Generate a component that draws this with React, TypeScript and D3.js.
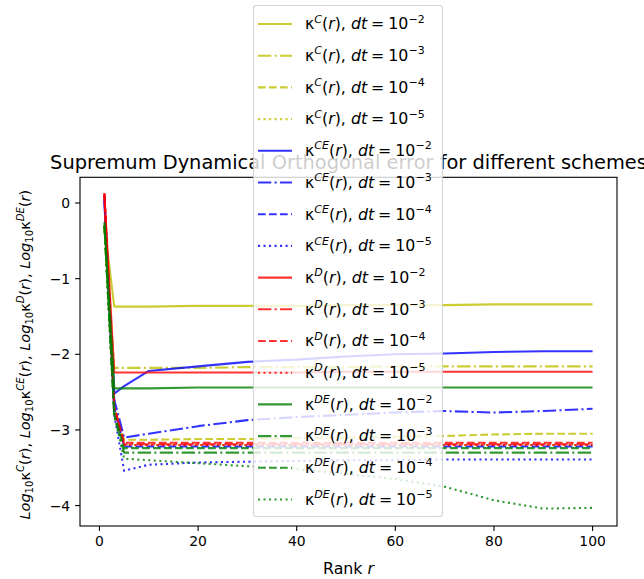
import React from 'react';
import * as d3 from 'd3';

// ---------- data ----------
const ranks = [1, 3, 5, 10, 20, 30, 40, 50, 60, 70, 80, 90, 100];

const kappaC_dt2 = [-0.3, -1.37, -1.37, -1.37, -1.36, -1.36, -1.36, -1.35, -1.35, -1.35, -1.34, -1.34, -1.34];
const kappaC_dt3 = [-0.32, -2.18, -2.18, -2.18, -2.18, -2.17, -2.17, -2.17, -2.16, -2.16, -2.16, -2.16, -2.16];
const kappaC_dt4 = [-0.3, -2.7, -3.13, -3.13, -3.12, -3.12, -3.11, -3.1, -3.09, -3.08, -3.06, -3.05, -3.05];
const kappaC_dt5 = [-0.3, -2.8, -3.2, -3.2, -3.2, -3.2, -3.2, -3.2, -3.2, -3.2, -3.2, -3.2, -3.2];

const kappaCE_dt2 = [0.0, -2.52, -2.42, -2.22, -2.16, -2.1, -2.07, -2.03, -2.0, -1.99, -1.97, -1.96, -1.96];
const kappaCE_dt3 = [0.05, -2.6, -3.1, -3.05, -2.95, -2.87, -2.83, -2.8, -2.77, -2.75, -2.77, -2.75, -2.72];
const kappaCE_dt4 = [0.1, -2.7, -3.22, -3.22, -3.22, -3.22, -3.22, -3.22, -3.22, -3.22, -3.22, -3.22, -3.22];
const kappaCE_dt5 = [0.1, -2.8, -3.54, -3.46, -3.43, -3.42, -3.41, -3.4, -3.4, -3.39, -3.39, -3.39, -3.39];

const kappaD_dt2 = [0.1, -2.24, -2.24, -2.24, -2.24, -2.24, -2.24, -2.23, -2.23, -2.23, -2.23, -2.23, -2.23];
const kappaD_dt3 = [0.12, -2.7, -3.19, -3.19, -3.19, -3.19, -3.19, -3.19, -3.19, -3.19, -3.19, -3.19, -3.19];
const kappaD_dt4 = [0.13, -2.7, -3.17, -3.17, -3.17, -3.17, -3.17, -3.17, -3.17, -3.17, -3.17, -3.17, -3.17];
const kappaD_dt5 = [0.13, -2.8, -3.2, -3.2, -3.2, -3.2, -3.2, -3.2, -3.2, -3.2, -3.2, -3.2, -3.2];

const kappaDE_dt2 = [-0.25, -2.45, -2.45, -2.45, -2.44, -2.44, -2.44, -2.44, -2.44, -2.44, -2.44, -2.44, -2.44];
const kappaDE_dt3 = [-0.3, -2.8, -3.3, -3.3, -3.3, -3.3, -3.3, -3.3, -3.3, -3.3, -3.3, -3.3, -3.3];
const kappaDE_dt4 = [-0.3, -2.8, -3.24, -3.24, -3.24, -3.24, -3.24, -3.24, -3.24, -3.24, -3.24, -3.24, -3.24];
const kappaDE_dt5 = [-0.3, -2.8, -3.38, -3.4, -3.44, -3.48, -3.52, -3.58, -3.65, -3.75, -3.93, -4.04, -4.03];

const xTicks = [0, 20, 40, 60, 80, 100];
const yTicks = [0, -1, -2, -3, -4];

const titleText = 'Supremum Dynamical Orthogonal error for different schemes';

// ---------- styling ----------
const COLORS: Record<string, string> = { C: '#bfbf00', CE: '#0000ff', D: '#ff0000', DE: '#008000' };
const LW = 2.08;
const DASHES: Record<string, string | undefined> = {
  '-2': undefined,
  '-3': '13.3 3.3 2.1 3.3',
  '-4': '7.7 3.3',
  '-5': '2.1 3.4',
};

const series = [
  { kind: 'C', exp: '-2', values: kappaC_dt2 },
  { kind: 'C', exp: '-3', values: kappaC_dt3 },
  { kind: 'C', exp: '-4', values: kappaC_dt4 },
  { kind: 'C', exp: '-5', values: kappaC_dt5 },
  { kind: 'CE', exp: '-2', values: kappaCE_dt2 },
  { kind: 'CE', exp: '-3', values: kappaCE_dt3 },
  { kind: 'CE', exp: '-4', values: kappaCE_dt4 },
  { kind: 'CE', exp: '-5', values: kappaCE_dt5 },
  { kind: 'D', exp: '-2', values: kappaD_dt2 },
  { kind: 'D', exp: '-3', values: kappaD_dt3 },
  { kind: 'D', exp: '-4', values: kappaD_dt4 },
  { kind: 'D', exp: '-5', values: kappaD_dt5 },
  { kind: 'DE', exp: '-2', values: kappaDE_dt2 },
  { kind: 'DE', exp: '-3', values: kappaDE_dt3 },
  { kind: 'DE', exp: '-4', values: kappaDE_dt4 },
  { kind: 'DE', exp: '-5', values: kappaDE_dt5 },
];

const W = 644;
const H = 579;
const L = 80, R = 617, T = 177.3, B = 526;
const FONT = 'DejaVu Sans, sans-serif';
const FS = 13.9;
const LEG_FS = 15.8;
const LAB_FS = 15.8;
const YLAB_FS = 14.5;

type Part = { t: string; it?: boolean; shift?: number; small?: boolean };

function MathText({ parts, fs, ...rest }: { parts: Part[]; fs: number; [k: string]: any }) {
  let cur = 0;
  return (
    <text fontFamily={FONT} fontSize={fs} style={{ whiteSpace: 'pre' }} {...rest}>
      {parts.map((p, i) => {
        const s = p.shift || 0;
        const dy = (cur - s) * fs;
        cur = s;
        return (
          <tspan
            key={i}
            dy={dy}
            fontStyle={p.it ? 'italic' : 'normal'}
            fontSize={p.small ? fs * 0.7 : fs}
          >
            {p.t}
          </tspan>
        );
      })}
    </text>
  );
}

function legendParts(kind: string, exp: string): Part[] {
  return [
    { t: 'κ' },
    { t: kind, it: true, small: true, shift: 0.42 },
    { t: '(' },
    { t: 'r', it: true },
    { t: '), ' },
    { t: 'dt', it: true },
    { t: '\u2005=\u200510' },
    { t: '−' + exp.slice(1), small: true, shift: 0.42 },
  ];
}

function ylabelParts(): Part[] {
  const out: Part[] = [];
  ['C', 'CE', 'D', 'DE'].forEach((k, i) => {
    out.push({ t: 'Log', it: true });
    out.push({ t: '10', small: true, shift: -0.2 });
    out.push({ t: 'κ' });
    out.push({ t: k, it: true, small: true, shift: 0.42 });
    out.push({ t: '(' });
    out.push({ t: 'r', it: true });
    out.push({ t: i < 3 ? '), ' : ')' });
  });
  return out;
}

export default function App() {
  const x = d3.scaleLinear().domain([-3.95, 104.95]).range([L, R]);
  const y = d3.scaleLinear().domain([-4.27, 0.34]).range([B, T]);

  const line = d3
    .line<number>()
    .x((_, i) => x(ranks[i]))
    .y((d) => y(d));

  const legX = 253.5, legY = 5.5, legW = 189, legH = 511;
  const rowY0 = 24, rowStep = 31.7;

  return (
    <svg
      width={W}
      height={H}
      style={{ position: 'absolute', left: 0, top: 0, background: '#fff' }}
    >
      <defs>
        <clipPath id="plotclip">
          <rect x={L} y={T} width={R - L} height={B - T} />
        </clipPath>
      </defs>
      <rect x={0} y={0} width={W} height={H} fill="#fff" />

      {/* title */}
      <text x={(L + R) / 2} y={169} textAnchor="middle" fontFamily={FONT} fontSize={19.4} fill="#000">
        {titleText}
      </text>

      {/* series */}
      <g clipPath="url(#plotclip)">
        {series.map((s, i) => (
          <path
            key={i}
            d={line(s.values) || ''}
            fill="none"
            stroke={COLORS[s.kind]}
            strokeOpacity={0.8}
            strokeWidth={LW}
            strokeDasharray={DASHES[s.exp]}
            strokeLinejoin="round"
          />
        ))}
      </g>

      {/* spines */}
      <rect x={L} y={T} width={R - L} height={B - T} fill="none" stroke="#000" strokeWidth={1.1} />

      {/* x ticks */}
      {xTicks.map((t) => (
        <g key={'x' + t}>
          <line x1={x(t)} x2={x(t)} y1={B} y2={B + 4.9} stroke="#000" strokeWidth={1.1} />
          <text x={x(t)} y={B + 20} textAnchor="middle" fontFamily={FONT} fontSize={FS} fill="#000">
            {t}
          </text>
        </g>
      ))}

      {/* y ticks */}
      {yTicks.map((t) => (
        <g key={'y' + t}>
          <line x1={L - 4.9} x2={L} y1={y(t)} y2={y(t)} stroke="#000" strokeWidth={1.1} />
          <text x={L - 9.8} y={y(t) + 5} textAnchor="end" fontFamily={FONT} fontSize={FS} fill="#000">
            {t < 0 ? '−' + Math.abs(t) : String(t)}
          </text>
        </g>
      ))}

      {/* x label */}
      <MathText
        parts={[{ t: 'Rank ' }, { t: 'r', it: true }]}
        fs={LAB_FS}
        x={(L + R) / 2}
        y={574}
        textAnchor="middle"
        fill="#000"
      />

      {/* y label */}
      <g transform={`translate(30, ${(T + B) / 2 + 3}) rotate(-90)`}>
        <MathText parts={ylabelParts()} fs={YLAB_FS} x={0} y={0} textAnchor="middle" fill="#000" />
      </g>

      {/* legend */}
      <rect
        x={legX}
        y={legY}
        width={legW}
        height={legH}
        rx={3}
        fill="#fff"
        fillOpacity={0.8}
        stroke="#cccccc"
        strokeOpacity={0.8}
        strokeWidth={1.1}
      />
      {series.map((s, i) => {
        const ry = rowY0 + i * rowStep;
        return (
          <g key={'leg' + i}>
            <line
              x1={258}
              x2={292}
              y1={ry}
              y2={ry}
              stroke={COLORS[s.kind]}
              strokeOpacity={0.8}
              strokeWidth={LW}
              strokeDasharray={DASHES[s.exp]}
            />
            <MathText parts={legendParts(s.kind, s.exp)} fs={LEG_FS} x={305} y={ry + 5.3} fill="#000" />
          </g>
        );
      })}
    </svg>
  );
}
